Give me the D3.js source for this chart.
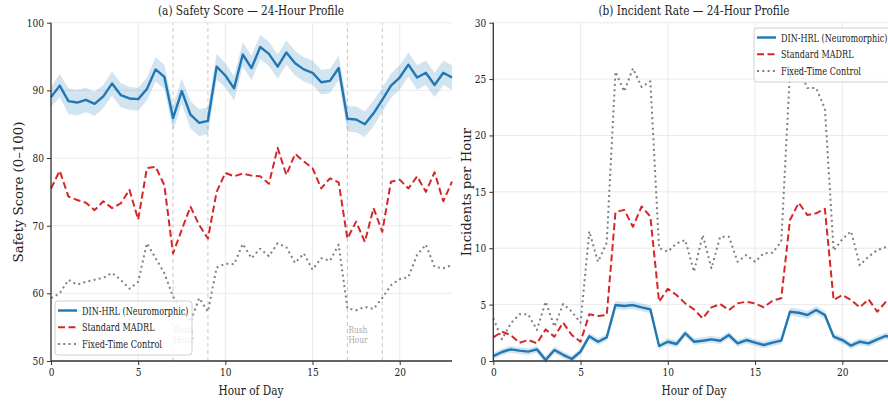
<!DOCTYPE html>
<html><head><meta charset="utf-8">
<script src="https://cdn.jsdelivr.net/npm/d3@7"></script>
<style>
html,body{margin:0;padding:0;background:#fff;}
svg{display:block;}
text{font-family:"DejaVu Serif",serif;}
</style></head>
<body><svg id="c" width="888" height="406"></svg>
<script>
const hours = [0,0.5,1,1.5,2,2.5,3,3.5,4,4.5,5,5.5,6,6.5,7,7.5,8,8.5,9,9.5,10,10.5,11,11.5,12,12.5,13,13.5,14,14.5,15,15.5,16,16.5,17,17.5,18,18.5,19,19.5,20,20.5,21,21.5,22,22.5,23];
const seriesNames = ["DIN-HRL (Neuromorphic)","Standard MADRL","Fixed-Time Control"];

const safetyDIN = [89.0,90.7,88.4,88.2,88.6,88.0,89.1,91.0,89.3,88.8,88.7,90.2,93.1,92.0,85.9,89.9,86.4,85.2,85.5,93.5,92.2,90.3,95.3,93.3,96.4,95.4,93.5,95.6,94.0,93.1,92.6,91.2,91.4,93.3,85.8,85.7,85.0,86.6,88.6,90.7,91.9,93.8,91.9,92.6,90.8,92.6,91.9];
const safetyDINci = [1.5,1.7,1.9,1.9,1.8,1.8,1.7,1.8,1.8,1.7,1.7,1.7,1.8,1.8,1.9,1.9,2.0,2.0,2.0,1.9,1.8,1.8,1.8,1.8,1.8,1.8,1.8,1.8,1.8,1.8,1.8,1.8,1.8,1.8,1.9,1.9,1.9,1.9,1.8,1.8,1.8,1.8,1.8,1.8,1.8,1.8,1.8];
const safetyMADRL = [75.5,78.1,74.3,73.8,73.4,72.3,73.6,72.6,73.3,75.3,70.9,78.5,78.7,76.0,65.9,69.4,72.8,70.1,68.1,75.0,77.8,77.3,77.7,77.4,77.3,76.2,81.5,77.5,80.6,79.5,78.5,75.5,77.0,76.4,68.1,70.6,67.6,72.6,69.1,76.5,76.8,75.5,77.3,75.0,77.9,73.6,76.5];
const safetyFixed = [59.3,60.0,62.0,61.3,61.7,62.0,62.3,63.0,62.0,60.7,61.7,67.4,65.2,63.0,59.5,57.6,55.8,59.3,57.3,63.8,64.4,64.3,67.3,65.2,66.6,65.5,67.4,66.8,64.5,65.9,63.5,65.2,64.8,67.2,57.8,57.5,58.0,57.7,59.3,61.2,62.1,62.4,65.7,67.2,63.9,63.7,64.2];

const incDIN = [0.44,0.8,1.03,0.92,0.83,1.03,0.09,0.97,0.55,0.18,0.83,2.2,1.71,2.1,4.96,4.88,4.96,4.76,4.58,1.33,1.71,1.51,2.46,1.71,1.8,1.92,1.8,2.3,1.56,1.86,1.63,1.42,1.63,1.8,4.37,4.28,4.08,4.52,4.08,2.16,1.86,1.36,1.71,1.56,1.92,2.22,2.0];
const incDINci = [0.3,0.3,0.3,0.3,0.3,0.3,0.3,0.3,0.3,0.3,0.3,0.3,0.3,0.3,0.35,0.35,0.35,0.35,0.35,0.3,0.3,0.3,0.3,0.3,0.3,0.3,0.3,0.3,0.3,0.3,0.3,0.3,0.3,0.3,0.35,0.35,0.35,0.35,0.35,0.3,0.3,0.3,0.3,0.3,0.3,0.3,0.3];
const incMADRL = [2.1,2.6,2.3,1.62,1.86,1.57,2.8,2.15,3.4,2.3,1.71,4.14,3.99,4.08,13.2,13.4,11.9,13.7,12.8,5.26,6.4,5.85,5.11,4.58,3.78,4.76,5.05,4.52,5.11,5.26,5.11,4.76,5.35,5.56,12.5,14.03,12.94,13.1,13.5,5.41,5.85,5.41,4.76,5.47,4.37,5.26,5.3];
const incFixed = [3.78,1.92,3.34,4.14,4.14,2.75,5.26,3.04,5.05,4.37,3.4,11.5,8.8,10.5,25.65,23.9,25.95,24.3,24.8,10.0,9.7,10.43,10.73,7.92,11.17,8.22,11.02,11.02,8.8,9.4,8.8,9.55,9.6,10.58,25.7,26.0,24.2,24.2,22.4,9.8,10.8,11.5,8.5,9.25,9.84,10.1,10.1];

const xTicks = [0,5,10,15,20];
const safetyTicks = [50,60,70,80,90,100];
const incTicks = [0,5,10,15,20,25,30];
const rushHours = [7,9,17,19];
const rushLabelHours = [7,17];

const svg = d3.select("#c");
const colors = ["#1f77b4","#d62728","#7f7f7f"];
const dashes = [null,"7,3.5","2,3.3"];
const widths = [2.4,2.0,2.0];
const legendWidths = [106.5,72.5,80];

// horizontal condensing of text (reference glyphs are narrow)
function fitWidth(sel, target){
  sel.each(function(){
    d3.select(this).attr("textLength",target).attr("lengthAdjust","spacingAndGlyphs");
  });
}
function squeeze(sel, f){
  sel.each(function(){
    const L = this.getComputedTextLength();
    d3.select(this).attr("textLength",L*f).attr("lengthAdjust","spacingAndGlyphs");
  });
}

function panel(opt){
  const x = d3.scaleLinear().domain([0,23]).range([opt.x0,opt.x1]);
  const y = d3.scaleLinear().domain(opt.yDomain).range([361,22.7]);
  const g = svg.append("g");
  // grid
  g.append("g").selectAll("line").data(opt.yTicks).join("line")
    .attr("x1",opt.x0).attr("x2",opt.x1).attr("y1",d=>y(d)).attr("y2",d=>y(d))
    .attr("stroke","#e8e8e8").attr("stroke-width",0.9);
  g.append("g").selectAll("line").data(xTicks).join("line")
    .attr("x1",d=>x(d)).attr("x2",d=>x(d)).attr("y1",y.range()[0]).attr("y2",y.range()[1])
    .attr("stroke","#e8e8e8").attr("stroke-width",0.9);
  if(opt.rush){
    g.append("g").selectAll("line").data(rushHours).join("line")
      .attr("x1",d=>x(d)).attr("x2",d=>x(d)).attr("y1",y.range()[0]).attr("y2",y.range()[1])
      .attr("stroke","#c8c8c8").attr("stroke-width",1).attr("stroke-dasharray","4,3");
    const r1 = g.append("g").selectAll("text").data(rushLabelHours).join("text")
      .attr("x",d=>x(d)+1).attr("y",y(opt.rushLabelY))
      .attr("fill","#aaaaaa").attr("font-size",9).text("Rush");
    const r2 = g.append("g").selectAll("text").data(rushLabelHours).join("text")
      .attr("x",d=>x(d)+1).attr("y",y(opt.rushLabelY)+10.5)
      .attr("fill","#aaaaaa").attr("font-size",9).text("Hour");
    squeeze(r1,0.82); squeeze(r2,0.82);
  }
  // band
  const area = d3.area().x((d,i)=>x(hours[i])).y0((d,i)=>y(d-opt.ci[i])).y1((d,i)=>y(d+opt.ci[i]));
  g.append("path").datum(opt.series[0]).attr("d",area).attr("fill","#1f77b4").attr("fill-opacity",0.2);
  const line = d3.line().x((d,i)=>x(hours[i])).y(d=>y(d));
  [2,1,0].forEach(k=>{
    g.append("path").datum(opt.series[k]).attr("d",line).attr("fill","none")
      .attr("stroke",colors[k]).attr("stroke-width",widths[k])
      .attr("stroke-dasharray",dashes[k]).attr("stroke-linejoin","round");
  });
  // axes
  const ax = g.append("g").attr("transform",`translate(0,361)`)
    .call(d3.axisBottom(x).tickValues(xTicks).tickSize(4).tickPadding(3).tickFormat(d3.format("d")));
  const ay = g.append("g").attr("transform",`translate(${opt.x0},0)`)
    .call(d3.axisLeft(y).tickValues(opt.yTicks).tickSize(4).tickPadding(3).tickFormat(d3.format("d")));
  [ax,ay].forEach(a=>{
    a.select(".domain").attr("stroke","#333").attr("stroke-width",1.3);
    a.selectAll(".tick line").attr("stroke","#333").attr("stroke-width",1);
    a.selectAll(".tick text").attr("fill","#222").attr("font-size",11)
      .style("font-family",'"DejaVu Serif",serif');
    squeeze(a.selectAll(".tick text"),0.82);
  });
  ax.select(".domain").attr("d",`M${opt.x0},0H${opt.x1}`);
  ay.select(".domain").attr("d",`M0,361V22.7`);
  // labels
  const t = g.append("text").attr("x",opt.titleX).attr("y",14.5).attr("text-anchor","middle")
    .attr("font-size",13).attr("fill","#222").text(opt.title);
  fitWidth(t,opt.titleW);
  const xl = g.append("text").attr("x",opt.titleX).attr("y",395).attr("text-anchor","middle")
    .attr("font-size",13).attr("fill","#222").text("Hour of Day");
  fitWidth(xl,65);
  g.append("text").attr("transform",`translate(${opt.ylabX},192) rotate(-90)`)
    .attr("text-anchor","middle").attr("font-size",13.3).attr("fill","#222")
    .text(opt.ylabel);
  // legend
  const lg = g.append("g").attr("transform",`translate(${opt.legX},${opt.legY})`);
  lg.append("rect").attr("width",137).attr("height",54).attr("rx",3)
    .attr("fill","#fff").attr("fill-opacity",0.82).attr("stroke","#d0d0d0").attr("stroke-width",1);
  seriesNames.forEach((n,k)=>{
    const yy = 9.5 + k*16.8;
    lg.append("line").attr("x1",3).attr("x2",22).attr("y1",yy).attr("y2",yy)
      .attr("stroke",colors[k]).attr("stroke-width",widths[k]).attr("stroke-dasharray",dashes[k]);
    const lt = lg.append("text").attr("x",27).attr("y",yy+4).attr("font-size",11.5).attr("fill","#222").text(n);
    fitWidth(lt,legendWidths[k]);
  });
}

panel({x0:51,x1:452,yDomain:[50,100],yTicks:safetyTicks,series:[safetyDIN,safetyMADRL,safetyFixed],ci:safetyDINci,
  title:"(a) Safety Score — 24-Hour Profile",titleX:251,titleW:186,ylabel:"Safety Score (0–100)",ylabX:22.5,
  legX:55,legY:301,rush:true,rushLabelY:54.2});
panel({x0:493.3,x1:894.7,yDomain:[0,30],yTicks:incTicks,series:[incDIN,incMADRL,incFixed],ci:incDINci,
  title:"(b) Incident Rate — 24-Hour Profile",titleX:694,titleW:191,ylabel:"Incidents per Hour",ylabX:471,
  legX:754,legY:28,rush:false});
</script></body></html>
